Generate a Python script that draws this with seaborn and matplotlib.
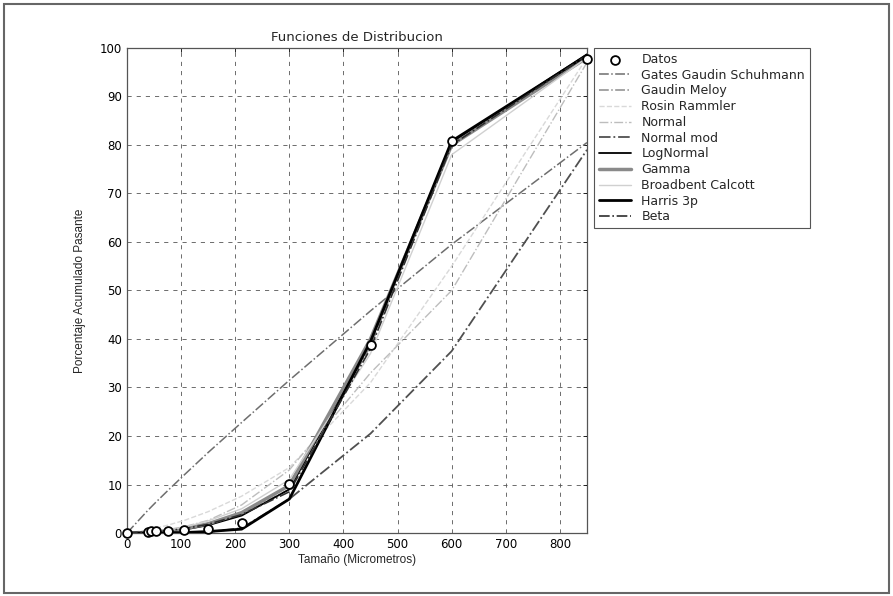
import pandas as pd
import matplotlib
matplotlib.use('Agg')
import matplotlib.pyplot as plt
import seaborn as sns
from matplotlib.patches import Rectangle

# Tamaños de malla (micrometros) y datos medidos
tamano = [0, 38, 45, 53, 75, 106, 150, 212, 300, 450, 600, 850]
datos = [0, 0.3, 0.35, 0.4, 0.5, 0.7, 0.9, 2.1, 10.2, 38.8, 80.8, 97.8]

# Modelos ajustados
ggs = [0, 4.6, 5.4, 6.3, 8.7, 12.0, 16.6, 22.8, 31.5, 45.8, 59.5, 80.5]
gaudin_meloy = [0, 0.2, 0.25, 0.35, 0.6, 1.1, 2.0, 4.0, 9.0, 38.5, 80.2, 98.5]
rosin_rammler = [0, 0.6, 0.8, 1.0, 1.6, 2.6, 4.4, 7.6, 13.5, 31, 55, 98]
normal = [0, 0.3, 0.35, 0.45, 0.7, 1.3, 2.6, 5.8, 13, 33, 50, 97]
normal_mod = [0, 0, 0, 0, 0, 0.05, 0.2, 1.0, 7.0, 20.5, 37.5, 79]
lognormal = [0, 0.05, 0.08, 0.12, 0.3, 0.7, 1.6, 3.6, 9.0, 39.5, 80.5, 98.7]
gamma = [0, 0.1, 0.15, 0.2, 0.4, 0.9, 1.9, 4.2, 9.8, 40, 80, 98]
broadbent = [0, 0.15, 0.2, 0.3, 0.6, 1.2, 2.5, 5.0, 11, 37, 78, 98]
harris = [0, 0, 0, 0, 0.05, 0.1, 0.3, 0.8, 7.0, 39.5, 80.8, 98.5]
beta = [0, 0.2, 0.25, 0.3, 0.5, 0.9, 1.8, 3.8, 8.5, 38, 80, 98.5]

sns.set_style('white')
plt.rcParams['font.family'] = ['DejaVu Sans']

fig = plt.figure(figsize=(8.93, 5.96), dpi=100)
ax = fig.add_axes([0.1422, 0.1057, 0.5151, 0.8138])

modelos = [
    ('Gates Gaudin Schuhmann', ggs, '#6e6e6e', '-.', 1.1),
    ('Gaudin Meloy', gaudin_meloy, '#8c8c8c', '-.', 1.1),
    ('Rosin Rammler', rosin_rammler, '#d9d9d9', '--', 1.0),
    ('Normal', normal, '#bdbdbd', '-.', 1.0),
    ('Normal mod', normal_mod, '#505050', '-.', 1.3),
    ('LogNormal', lognormal, 'black', '-', 1.3),
    ('Gamma', gamma, '#8a8a8a', '-', 2.5),
    ('Broadbent Calcott', broadbent, '#d0d0d0', '-', 1.0),
    ('Harris 3p', harris, 'black', '-', 2.0),
    ('Beta', beta, '#2e2e2e', '-.', 1.2),
]

sns.scatterplot(x=tamano, y=datos, ax=ax, marker='o', s=40, facecolor='white',
                edgecolor='black', linewidth=1.3, label='Datos', zorder=5,
                clip_on=False)
for nombre, valores, color, estilo, ancho in modelos:
    sns.lineplot(x=tamano, y=valores, ax=ax, color=color, linestyle=estilo,
                 linewidth=ancho, label=nombre, sort=False, zorder=3)

ax.set_xlim(0, 850)
ax.set_ylim(0, 100)
ax.set_xticks(range(0, 900, 100))
ax.set_yticks(range(0, 110, 10))
ax.tick_params(direction='in', top=True, right=True, labelsize=8.5, length=3,
               colors='black', width=0.6)
ax.grid(True, linestyle=(0, (5, 6)), color='#555555', linewidth=0.6)
for s in ax.spines.values():
    s.set_color('#555555')
    s.set_linewidth(0.9)

ax.set_title('Funciones de Distribucion', fontsize=9.5, pad=5)
ax.set_xlabel('Tamaño (Micrometros)', fontsize=8.5, family='Liberation Sans',
              labelpad=2)
ax.set_ylabel('Porcentaje Acumulado Pasante', fontsize=8.5,
              family='Liberation Sans', labelpad=10)

leg = ax.legend(loc='upper left', bbox_to_anchor=(1.015, 1.0), fontsize=9,
                frameon=True, fancybox=False, framealpha=1, edgecolor='#555555',
                labelspacing=0.22, handlelength=2.6, borderaxespad=0,
                borderpad=0.4)
leg.get_frame().set_linewidth(0.8)

# marco de la figura
fig.patches.append(Rectangle((0.005, 0.005), 0.99, 0.988, transform=fig.transFigure,
                             fill=False, edgecolor='#666666', linewidth=1.5))

plt.savefig('out.png', dpi=100)
